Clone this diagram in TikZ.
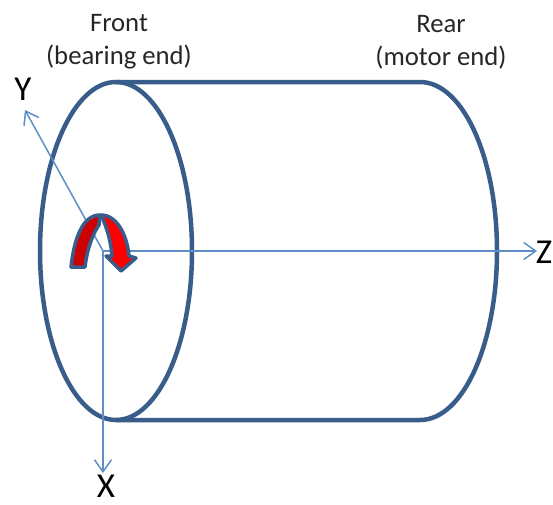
\documentclass[tikz,border=0pt]{standalone}
\usepackage{fontspec}
\setmainfont{Carlito}
\usepackage{tikz}
\usetikzlibrary{arrows.meta, positioning}

\definecolor{bodyblue}{HTML}{385D8A}
\definecolor{axisblue}{HTML}{5F8DC6}
\definecolor{textdark}{HTML}{262626}

\begin{document}
\begin{tikzpicture}[
	x=1pt, y=-1pt,
	body_line/.style={draw=bodyblue, line width=4.5pt},
	axis_arrow/.style={draw=axisblue, line width=1.5pt, -{Straight Barb[length=12pt, width=17pt, line width=1.5pt]}},
	end_label/.style={font=\fontsize{26.7}{33}\selectfont, align=center, text=textdark, inner sep=0pt},
	axis_label/.style={font=\fontsize{35}{35}\selectfont, text=black, inner sep=0pt},
	turn_line/.style={draw=bodyblue, line width=3.5pt, line join=round}
	]
	
	\useasboundingbox (0,0) rectangle (553,504);
	
	% --- cylinder ---
	\draw[body_line] (116,82) -- (420,82) .. controls (463,82) and (497,158) .. (497,251)
		.. controls (497,344) and (463,420) .. (420,420) -- (116,420);
	\draw[body_line] (116,251) ellipse [x radius=76, y radius=169];
	
	% --- labels ---
	\node[end_label] (front) at (119,42) {Front\\(bearing end)};
	\node[end_label] (rear) at (441,42) {Rear\\(motor end)};
	
	% --- axes ---
	\coordinate (O) at (103,251);
	\coordinate (Yend) at (25,110);
	\coordinate (Xend) at (103,473);
	\coordinate (Zend) at (537,251);
	\node[axis_label] (Y) at (23,89) {Y};
	\node[axis_label] (X) at (106,486) {X};
	\node[axis_label] (Z) at (544,252) {Z};
	
	\draw[axis_arrow] (O) -- (Yend);
	\draw[axis_arrow] (O) -- (Xend);
	\draw[axis_arrow] (O) -- (Zend);
	
	% --- rotation arrow ---
	\draw[turn_line, fill=red!80!black] (71,267) .. controls (74,240) and (82,215) .. (100,215)
		-- (99,225) .. controls (92,235) and (87,250) .. (85,267) -- cycle;
	\draw[turn_line, fill=red] (101,215) .. controls (117,215) and (127,235) .. (129,256)
		-- (136,258) -- (121,271) -- (106,256) -- (112,256)
		.. controls (111,243) and (108,230) .. (101,215) -- cycle;
	
\end{tikzpicture}
\end{document}
